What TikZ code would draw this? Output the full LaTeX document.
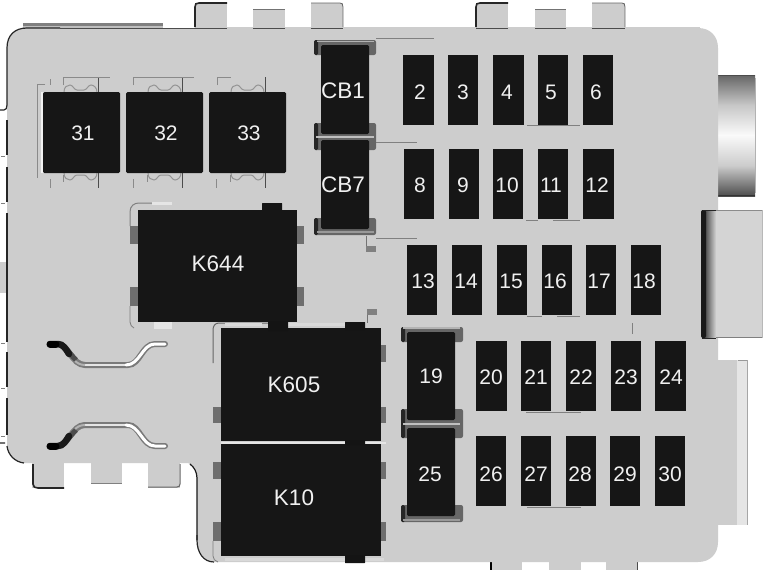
\documentclass[tikz,border=0pt]{standalone}
\usepackage{fontspec}
\setmainfont{Liberation Sans}
\definecolor{bodygray}{HTML}{CDCDCD}
\definecolor{blk}{HTML}{161616}
\definecolor{lbl}{HTML}{F0F0F0}
\definecolor{tabgray}{HTML}{6E6E6E}
\definecolor{linegray}{HTML}{8A8A8A}
\tikzset{
  x=1pt,y=-1pt,
  blackbox/.style={fill=blk,draw=none,inner sep=0pt},
  softbox/.style={blackbox,rounded corners=1.5pt},
  lab/.style={inner sep=0pt,text=lbl,text height=15pt,text depth=0pt,font=\fontsize{21}{24}\selectfont},
  biglab/.style={lab,font=\fontsize{22.5}{24}\selectfont},
  bodyshape/.style={fill=bodygray,draw=none},
  outl/.style={draw=black!85,line width=1.2pt},
  thin gray/.style={draw=linegray,line width=0.8pt},
  pin/.style={fill=tabgray,draw=none},
  nub/.style={fill=black!92,draw=none,rounded corners=0.5pt},
  bump/.style={draw=black!42,line width=1pt},
}
\newcommand{\fbx}[9][blackbox]{%
  \node[#1,minimum width={#5-#3},minimum height={#6-#4}] (#2) at ({(#3+#5)/2},{(#4+#6)/2}) {};
  \node[lab] (#2-t) at (#8,#9) {#7};}
\newcommand{\kbx}[9][blackbox]{%
  \node[#1,minimum width={#5-#3},minimum height={#6-#4}] (#2) at ({(#3+#5)/2},{(#4+#6)/2}) {};
  \node[biglab] (#2-t) at (#8,#9) {#7};}
\begin{document}
\begin{tikzpicture}
\useasboundingbox (0,0) rectangle (768,570);
\fill[white] (0,0) rectangle (768,570);
% tabs, top
\foreach \xa/\xb/\ya in {195/227/3,253/285/9,311/343/3,476/508/3,535/566/9,592/625/3}
  {\fill[bodyshape] (\xa,29) rectangle (\xb,\ya);}
\foreach \xa/\xb in {195/227,476/508}
  {\draw[black!85,line width=1.6pt] (\xa,27) -- (\xa,7) .. controls (\xa,4) and (\xa+1,3) .. (\xa+4,3) -- (\xb,3);}
\foreach \xa/\xb in {311/343,592/625}
  {\draw[black!60,line width=0.8pt] (\xa,3) -- (\xb-3,3) .. controls (\xb-1,3) and (\xb,4) .. (\xb,7) -- (\xb,27);}
\foreach \xa/\xb in {253/285,535/566}
  {\draw[black!55,line width=1pt] (\xa,9) -- (\xb,9);}
\fill[black!50] (23,23) rectangle (163,27);
\fill[black!25] (23,26) rectangle (163,28);
% bottom-left tabs
\foreach \xa/\xb/\ya in {32/64/488,91/122/483,148/180/488}
  {\fill[bodyshape] (\xa,462) rectangle (\xb,\ya);}
\draw[black!85,line width=1.6pt] (33,464) -- (33,484) .. controls (33,487) and (35,488) .. (38,488) -- (64,488);
\draw[black!50,line width=1pt] (91,483) -- (122,483);
\draw[black!60,line width=1pt] (148,487) -- (177,487) .. controls (179,487) and (180,486) .. (180,484) -- (180,464);
% bottom-right tabs
\foreach \xa/\xb in {491/522,549/581,606/638}
  {\fill[bodyshape] (\xa,560) rectangle (\xb,570);}
\draw[black,line width=1.5pt] (491,562) -- (491,570);
\draw[black!70,line width=.7pt] (637,562) -- (637,570);
% right connector
\shade[top color=black!60,bottom color=black!2,middle color=black!22] (718,75) rectangle (755,135);
\shade[top color=black!2,bottom color=black!70,middle color=black!20] (718,135) rectangle (755,196);
\draw[black!70,line width=1pt] (718,75.5) -- (755,75.5);
\draw[black!80,line width=1.2pt] (718,195.5) -- (755,195.5);
\draw[black!30,line width=1pt] (755.5,78) -- (755.5,193);
% body
\path[bodyshape] (7,48) .. controls (7,35) and (15,28) .. (27,28)
  -- (698,28) .. controls (710,28) and (718,36) .. (718,48)
  -- (718,542) .. controls (718,554) and (710,562) .. (698,562)
  -- (214,562) .. controls (203,562) and (197,552) .. (197,540)
  -- (197,478) .. controls (197,470) and (193,465) .. (188,463)
  -- (25,463) .. controls (15,463) and (7,455) .. (7,443) -- cycle;
\fill[bodyshape] (0,262) rectangle (7,293);
% right block
\fill[black!17] (710,210) rectangle (763,338);
\shade[left color=black!85,right color=black!17] (702,210) rectangle (716,338);
\fill[black!90,rounded corners=2pt] (701,210) rectangle (706,338);
\draw[black!85,line width=1pt] (703,210) -- (716,210) (703,338) -- (716,338);
\draw[black!45,line width=.8pt] (716,210.5) -- (763,210.5);
\draw[black!50,line width=.8pt] (716,337.5) -- (763,337.5);
\draw[black!28,line width=.8pt] (762.5,210) -- (762.5,338);
% right strip
\fill[bodyshape] (717,360) rectangle (738,525);
\fill[black!10] (737,360) rectangle (747,525);
\draw[black!40,line width=.8pt] (738,360) -- (747,360);
\draw[black!35,line width=.8pt] (747,360) -- (747,525);
% body outlines
\draw[outl] (0,110) -- (4,110) .. controls (6,110) and (7,108) .. (7,105) -- (7,48) .. controls (7,35) and (15,28) .. (27,28) -- (60,28);
\draw[black!70,line width=.8pt] (60,28) -- (660,28) ;
\foreach \xa/\xb in {227/253,285/311,343/476,508/535,566/592,625/700}
  {\fill[bodyshape] (\xa,27) rectangle (\xb,29.5);}
\foreach \ya/\yb in {120/155,167/202,213/342,352/387,398/435}
  {\draw[outl] (7,\ya) -- (7,\yb);}
\foreach \ya in {156,203,343,388,436}
  {\draw[black!50,line width=.5pt] (1,\ya) -- (5,\ya);}
\draw[outl] (0,443) -- (5,443) (7,446) .. controls (8,455) and (15,462) .. (24,463);
\draw[black!90,line width=1.2pt] (197,540) -- (197,478) .. controls (197,472) and (194,467) .. (190,464);
\draw[black!85,line width=1.2pt] (197,535) -- (197,540) .. controls (197,552) and (203,562) .. (214,562);
% thin marks near relays
\foreach \off in {0,84,167}{
  \begin{scope}[shift={(\off,0)}]
    \draw[bump] (64,92) .. controls (64,87) and (67,85) .. (70,85) .. controls (73,85) and (74,90) .. (77,90) -- (84,90) .. controls (87,90) and (88,85) .. (91,85) .. controls (94,85) and (97,88) .. (97,92);
    \draw[bump] (64,173) .. controls (64,178) and (67,180) .. (70,180) .. controls (73,180) and (74,175) .. (77,175) -- (84,175) .. controls (87,175) and (88,180) .. (91,180) .. controls (94,180) and (97,177) .. (97,173);
    \draw[black!70,line width=1pt] (98,173) -- (98,188);
    \draw[black!70,line width=1pt] (98,77) -- (98,92);
  \end{scope}}
\draw[thin gray] (63,85) -- (63,77) -- (110,77);
\draw[thin gray] (133,85) -- (133,77) -- (194,77);
\draw[thin gray] (217,85) -- (217,77) -- (231,77);
\draw[thin gray] (50,79) -- (50,85) (45,84) -- (37,84) -- (37,178);
\foreach \xa in {50,133,216}
  {\draw[thin gray] (\xa,179) -- (\xa,188);}
\foreach \xa in {63,147,230}
  {\draw[thin gray] (\xa,175) -- (\xa,182);}
\fill[white!95!black] (41,92) rectangle (43,173);
% relays with numbers
\fbx[softbox]{r31}{43}{92}{120}{173}{31}{83}{132.5}
\fbx[softbox]{r32}{126}{92}{203}{173}{32}{166}{132.5}
\fbx[softbox]{r33}{209}{92}{286}{173}{33}{249}{132.5}
% K644 and surround
\draw[black!50,line width=1pt] (130,226) -- (130,212) .. controls (130,206) and (134,203) .. (139,203) -- (152,203);
\draw[black!50,line width=.8pt] (130,306) -- (130,322) .. controls (130,325) and (132,327) .. (134,328);
\fill[white!90!black] (152,202) rectangle (172,205);
\fill[white!90!black] (154,322) rectangle (172,329);
\foreach \xa/\wa in {130/8,297/7}
  {\foreach \ya/\ha in {226/18,287/19}
    {\fill[pin] (\xa,\ya) rectangle ++(\wa,\ha);}}
\fill[nub] (262,203) rectangle (282,211);
\kbx{k644}{138}{210}{297}{322}{K644}{218}{263.5}
% K605 K10 surround
\draw[black!60,line width=1pt] (213,363) -- (213,330) .. controls (213,326) and (215,323) .. (219,323) -- (268,323);
\draw[black!50,line width=.8pt] (213,541) -- (213,556) .. controls (213,559) and (215,561) .. (218,562);
\fill[white!85!black] (225,323) rectangle (262,326);
\fill[white!85!black] (288,323) rectangle (345,326);
\fill[white!85!black] (225,558) rectangle (345,561);
\fill[white!85!black] (365,558) rectangle (384,561);
\foreach \ya/\ha in {407/16,462/17,522/19}
  {\fill[pin] (213,\ya) rectangle ++(8,\ha);}
\foreach \ya/\ha in {345/17,407/16,462/17,522/19}
  {\fill[pin] (381,\ya) rectangle ++(5,\ha);}
\fill[white!90!black] (221,442) rectangle (386,444);
\kbx{k605}{221}{328}{381}{441}{K605}{294}{385}
\kbx{k10}{221}{444}{381}{556}{K10}{294}{497.5}
\foreach \xa/\ya/\ha in {268/321/10,345/322/8,345/440/5,345/555/8}
  {\fill[nub] (\xa,\ya) rectangle ++(20,\ha);}
% small marks between K644 and CB
\draw[black!55,line width=.8pt] (366,236) -- (366,246) (367,313) -- (367,323);
\fill[black!50] (366,246) rectangle (376,252);
\fill[black!50] (367,309) rectangle (377,315);
% circuit breakers
\foreach \xa/\ya/\ha in {314/40/15,314/123/27,314/218/17,401/327/15,401/409/29,401/505/17}
  {\fill[black!60,rounded corners=2pt] (\xa,\ya) rectangle ++(62,\ha);
   \fill[black!85,rounded corners=1.5pt] (\xa,\ya) rectangle ++(4,\ha);}
\kbx[softbox]{cb1}{321}{45}{369}{134}{CB1}{343}{91}
\kbx[softbox]{cb7}{321}{140}{369}{229}{CB7}{343}{185}
\fbx[softbox]{f19}{407}{332}{455}{420}{19}{431}{376}
\fbx[softbox]{f25}{407}{428}{455}{516}{25}{430}{474}
\draw[black!25,line width=2pt] (316,137) -- (374,137) (403,424) -- (460,424);
\draw[black!30,line width=1.6pt] (317,41.5) -- (374,41.5) (403,328) -- (460,328);
\draw[black!40,line width=1.6pt] (317,232) -- (374,232) (403,520) -- (460,520);
% thin lines next to fuse rows
\foreach \xa/\xb/\ya in {376/434/38,376/417/142,376/417/238,527/580/125,526/538/220,553/580/220,527/542/316,557/580/316,526/581/412,527/581/507}
  {\draw[black!50,line width=.7pt] (\xa,\ya) -- (\xb,\ya);}
\draw[black!50,line width=.7pt] (632,323) -- (632,334);
% fuses
\foreach \lb/\xa/\ya/\xb/\yb/\lx/\ly in {
  2/403/55/434/125/420/92,3/448/55/478/125/463/92,4/493/55/524/125/507/92,5/538/55/568/125/551/92,6/583/55/613/125/596/92,
  8/404/149/434/219/420/185,9/449/149/479/219/463/185,10/493/149/523/219/507/185,11/538/149/568/219/551/185,12/583/149/614/219/597/185,
  13/407/245/437/315/423/281,14/452/245/482/315/466/281,15/497/245/527/315/511/281,16/542/245/572/315/555/281,17/586/245/616/315/599/281,18/631/245/661/315/644/281,
  20/476/341/507/411/491/377,21/521/341/551/411/536/377,22/566/341/596/411/581/377,23/611/341/641/411/626/377,24/655/341/686/411/671/377,
  26/476/436/506/506/491/474,27/521/436/551/506/536/474,28/566/436/596/506/580/474,29/610/436/640/506/625/474,30/655/436/685/506/670/474}
  {\fbx{f\lb}{\xa}{\ya}{\xb}{\yb}{\lb}{\lx}{\ly}}
% curved ribs
\foreach \ya/\sa in {344/1,446/-1}{
  \begin{scope}[shift={(0,\ya)},yscale=\sa]
    \draw[black!52,line width=6pt,line cap=round] (58,0) .. controls (68,0) and (72,21) .. (85,21) -- (128,21) .. controls (140,21) and (142,0) .. (155,0) -- (165,0);
    \draw[black!10,line width=2pt] (85,21) -- (128,21);
    \draw[white,line width=3pt,line cap=round] (126,21) .. controls (140,21) and (142,0) .. (155,0) -- (165,0);
    \draw[black!30,line width=2pt] (74,16) .. controls (77,19) and (80,21) .. (85,21);
    \draw[black!70,line width=5pt] (60,1) .. controls (66,3) and (70,10) .. (76,16);
    \draw[black!90,line width=6.5pt,line cap=round] (50,0) -- (58,0) .. controls (63,0) and (66,5) .. (69,10);
    \draw[black,line width=7pt,line cap=round] (50,0) -- (56,0);
  \end{scope}}
\end{tikzpicture}
\end{document}
